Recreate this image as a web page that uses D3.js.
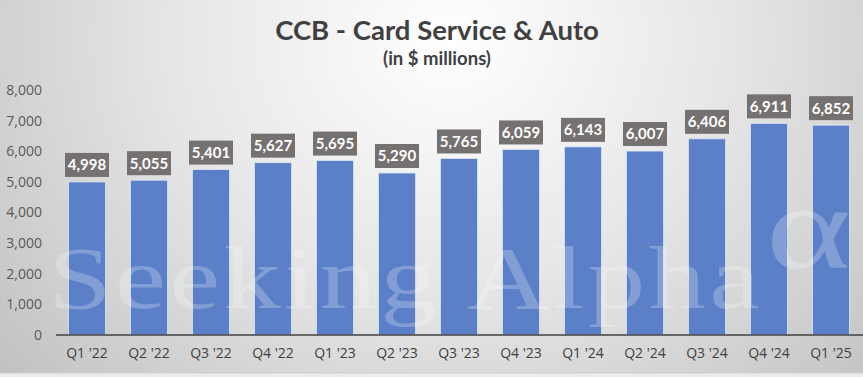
<!DOCTYPE html>
<html><head><meta charset="utf-8">
<script src="https://cdn.jsdelivr.net/npm/d3@7"></script>
<style>body{margin:0;padding:0;overflow:hidden;background:#fff}svg{display:block}</style>
</head><body>
<svg id="chart" width="863" height="377"></svg>
<script>
const categories = ["Q1 '22","Q2 '22","Q3 '22","Q4 '22","Q1 '23","Q2 '23","Q3 '23","Q4 '23","Q1 '24","Q2 '24","Q3 '24","Q4 '24","Q1 '25"];
const values = [4998,5055,5401,5627,5695,5290,5765,6059,6143,6007,6406,6911,6852];
const yTicks = [0,1000,2000,3000,4000,5000,6000,7000,8000];
const titleText = "CCB - Card Service & Auto";
const subtitleText = "(in $ millions)";

const W = 863, H = 377;
const svg = d3.select("#chart");
const defs = svg.append("defs");
const grad = defs.append("radialGradient").attr("id","bg")
  .attr("gradientUnits","userSpaceOnUse").attr("cx",450).attr("cy",40).attr("r",620)
  .attr("gradientTransform","translate(450,40) scale(1,0.9) translate(-450,-40)");
grad.append("stop").attr("offset","0").attr("stop-color","#ffffff");
grad.append("stop").attr("offset","0.45").attr("stop-color","#e6e6e6");
grad.append("stop").attr("offset","1").attr("stop-color","#bdbdbd");
svg.append("rect").attr("width",W).attr("height",H).attr("fill","url(#bg)");

const margin = {left:56, right:1, top:90, bottom:42};
const x = d3.scaleBand().domain(categories).range([margin.left, W - margin.right]).paddingInner(0.4).paddingOuter(0.2);
const y = d3.scaleLinear().domain([0,8000]).range([335, 90]);

// title
svg.append("text").attr("x",437).attr("y",40).attr("text-anchor","middle")
  .attr("font-family","Lato, 'Open Sans', sans-serif").attr("font-weight","bold").attr("font-size",27.5)
  .attr("fill","#404040").text(titleText);
svg.append("text").attr("x",437).attr("y",65).attr("text-anchor","middle")
  .attr("font-family","Lato, 'Open Sans', sans-serif").attr("font-weight","bold").attr("font-size",18.5)
  .attr("fill","#404040").text(subtitleText);

// y axis labels
const yAxis = d3.axisLeft(y).tickValues(yTicks).tickFormat(d3.format(",")).tickSize(0).tickPadding(0);
const ya = svg.append("g").attr("transform","translate(42,0)").call(yAxis);
ya.select(".domain").remove();
ya.selectAll("text").attr("font-family","'Open Sans', sans-serif").attr("font-size",14).attr("fill","#595959");

// bars
svg.append("g").selectAll("rect").data(values).join("rect")
  .attr("x",(d,i)=>x(categories[i])).attr("width",x.bandwidth())
  .attr("y",d=>y(d)).attr("height",d=>y(0)-y(d))
  .attr("fill","#5b80c8").attr("stroke","#dfe6f3").attr("stroke-width",0.8);

// watermark
const wm = svg.append("g").attr("fill","#ffffff").attr("fill-opacity",0.24)
  .attr("font-family","'Liberation Serif', 'DejaVu Serif', serif");
wm.append("text").attr("transform","translate(48,308) scale(1.3,1)").attr("font-size",88)
  .attr("textLength",712/1.3).attr("lengthAdjust","spacing").text("Seeking Alpha");
wm.append("text").attr("transform","translate(766,268) scale(1.35,1)").attr("font-size",120).text("α");

// axis line
const xAxis = d3.axisBottom(x).tickSize(0).tickPadding(13);
const xa = svg.append("g").attr("transform",`translate(0,${y(0)})`).call(xAxis);
xa.select(".domain").attr("stroke","#404040").attr("stroke-width",1.5).attr("d",`M${margin.left},0H${W}`);
xa.selectAll("text").attr("font-family","'Open Sans', sans-serif").attr("font-size",14).attr("fill","#404040");

// data labels
const lab = svg.append("g").selectAll("g").data(values).join("g")
  .attr("transform",(d,i)=>`translate(${x(categories[i])+x.bandwidth()/2},${y(d)-17})`);
lab.append("rect").attr("x",-22).attr("y",-12).attr("width",44).attr("height",24).attr("fill","#767171");
lab.append("text").attr("text-anchor","middle").attr("dy","0.36em")
  .attr("font-family","Lato, 'Open Sans', sans-serif").attr("font-weight","bold").attr("font-size",15)
  .attr("fill","#ffffff").text(d=>d3.format(",")(d));

// bottom strip
svg.append("rect").attr("x",0).attr("y",373).attr("width",W).attr("height",4).attr("fill","#ececec");
svg.append("line").attr("x1",0).attr("x2",W).attr("y1",373).attr("y2",373).attr("stroke","#d0d0d0");
</script>
</body></html>
